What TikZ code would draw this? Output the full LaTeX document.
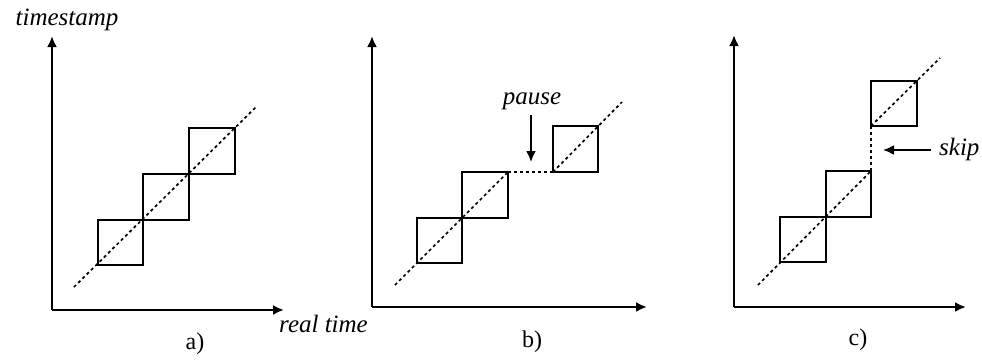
\documentclass[tikz,border=0pt]{standalone}
\usepackage{fontspec}
\setmainfont{Liberation Serif}
\usetikzlibrary{arrows.meta}
\begin{document}
\begin{tikzpicture}[x=1pt,y=-1pt,
  axis/.style={line width=2.2pt,-{Latex[length=11pt,width=10pt]}},
  box/.style={line width=2.2pt},
  diag/.style={line width=1.7pt,dash pattern=on 3pt off 3pt},
  gap/.style={line width=1.7pt,dash pattern=on 3pt off 3pt},
  note/.style={line width=2pt,-{Latex[length=11pt,width=10pt]}},
  lbl/.style={font=\fontsize{25}{28}\selectfont\itshape,inner sep=0pt},
  sublbl/.style={font=\fontsize{24}{27}\selectfont,inner sep=0pt}]
\useasboundingbox (0,0) rectangle (982,360);
\fill[white] (0,0) rectangle (982,360);
% ---------- panel a ----------
\coordinate (ao) at (52,310);
\coordinate (at) at (52,36);
\coordinate (ar) at (284,310);
\draw[axis] (ao) -- (at);
\draw[axis] (ao) -- (ar);
\draw[box] (98,220) rectangle (143,265);
\draw[box] (143,174) rectangle (189,220);
\draw[box] (189,128) rectangle (235,174);
\coordinate (ad1) at (74,287);
\coordinate (ad2) at (257,106);
\draw[diag] (ad1) -- (ad2);
\node[lbl,anchor=base] (ts) at (67,25) {timestamp};
\node[lbl,anchor=base west] (rt) at (279,332) {real time};
\node[sublbl,anchor=base] (la) at (195,349) {a)};
% ---------- panel b ----------
\coordinate (bo) at (372,307);
\coordinate (bt) at (372,36);
\coordinate (br) at (647,307);
\draw[axis] (bo) -- (bt);
\draw[axis] (bo) -- (br);
\draw[box] (417,218) rectangle (462,263);
\draw[box] (462,172) rectangle (508,218);
\draw[box] (553,126) rectangle (598,172);
\coordinate (bd1) at (395,285);
\coordinate (bd2) at (508,172);
\coordinate (bd3) at (553,172);
\coordinate (bd4) at (622,102);
\draw[diag] (bd1) -- (bd2);
\draw[gap] (bd2) -- (bd3);
\draw[diag] (bd3) -- (bd4);
\node[lbl,anchor=base] (pa) at (532,104) {pause};
\coordinate (pt) at (531,162);
\draw[note] (531,115) -- (pt);
\node[sublbl,anchor=base] (lb) at (532,347) {b)};
% ---------- panel c ----------
\coordinate (co) at (734,307);
\coordinate (ct) at (734,35);
\coordinate (cr) at (966,307);
\draw[axis] (co) -- (ct);
\draw[axis] (co) -- (cr);
\draw[box] (780,217) rectangle (826,262);
\draw[box] (826,171) rectangle (871,217);
\draw[box] (871,81) rectangle (917,126);
\coordinate (cd1) at (758,285);
\coordinate (cd2) at (871,171);
\coordinate (cd3) at (871,126);
\coordinate (cd4) at (940,58);
\draw[diag] (cd1) -- (cd2);
\draw[gap] (cd2) -- (cd3);
\draw[diag] (cd3) -- (cd4);
\node[lbl,anchor=base west] (sk) at (939,155) {skip};
\coordinate (st) at (883,150);
\draw[note] (931,150) -- (st);
\node[sublbl,anchor=base] (lc) at (858,345) {c)};
\end{tikzpicture}
\end{document}
